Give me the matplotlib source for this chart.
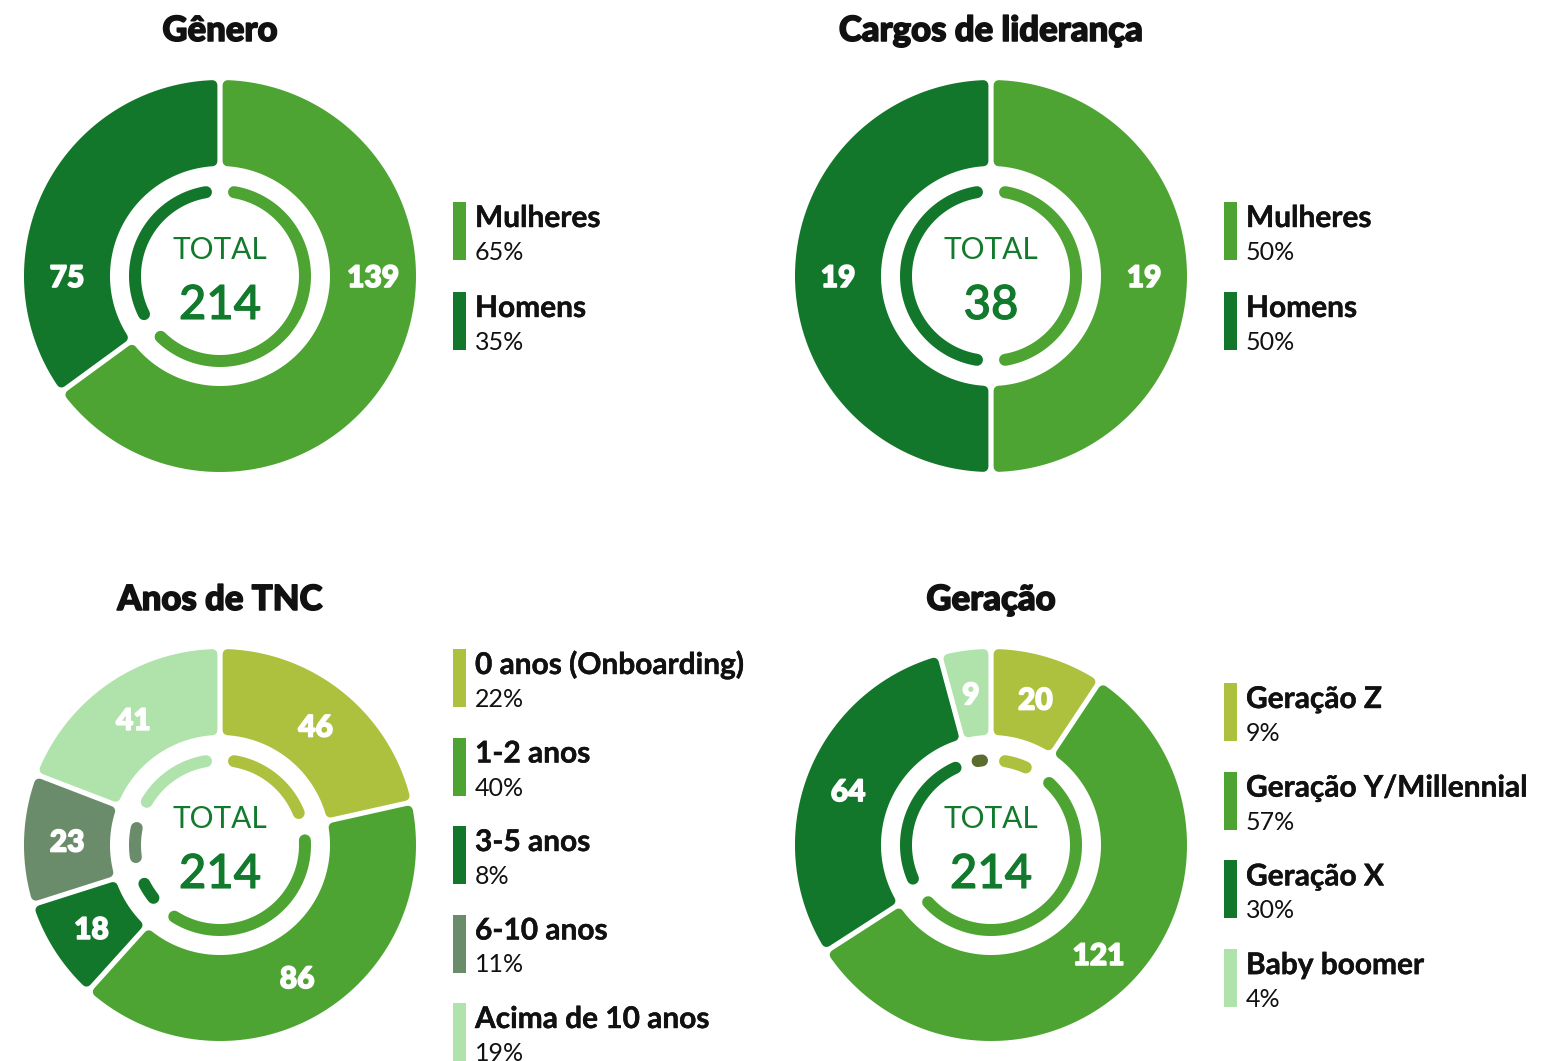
import numpy as np
import matplotlib
matplotlib.use("Agg")
import matplotlib.pyplot as plt
import matplotlib.patheffects as pe
from matplotlib.patches import Polygon, Rectangle

# ---------------- data ----------------
genero_title = "Gênero"
genero_labels = ["Mulheres", "Homens"]
genero_values = [139, 75]
genero_pct = ["65%", "35%"]

cargos_title = "Cargos de liderança"
cargos_labels = ["Mulheres", "Homens"]
cargos_values = [19, 19]
cargos_pct = ["50%", "50%"]

anos_title = "Anos de TNC"
anos_labels = ["0 anos (Onboarding)", "1-2 anos", "3-5 anos", "6-10 anos", "Acima de 10 anos"]
anos_values = [46, 86, 18, 23, 41]
anos_pct = ["22%", "40%", "8%", "11%", "19%"]

geracao_title = "Geração"
geracao_labels = ["Geração Z", "Geração Y/Millennial", "Geração X", "Baby boomer"]
geracao_values = [20, 121, 64, 9]
geracao_pct = ["9%", "57%", "30%", "4%"]

# ---------------- style ----------------
DARK = "#12772b"
MID = "#4ea432"
OLIVE = "#adc13f"
GREY = "#6a8c6a"
LIGHT = "#b0e2ab"
DOT = "#5c6b2e"
TOTAL_COLOR = "#127a2c"
INK = "#111111"

genero_colors = [MID, DARK]
cargos_colors = [MID, DARK]
anos_colors = [OLIVE, MID, DARK, GREY, LIGHT]
geracao_colors = [OLIVE, MID, DARK, LIGHT]
geracao_inner = [OLIVE, MID, DARK, DOT]

plt.rcParams["font.family"] = ["Lato", "DejaVu Sans"]

W, H = 1558, 1061
PX = 72 / 100.0  # points per pixel

fig = plt.figure(figsize=(W / 100, H / 100), dpi=100)
ax = fig.add_axes([0, 0, 1, 1])
ax.set_xlim(0, W)
ax.set_ylim(H, 0)
ax.axis("off")

R_OUT, R_IN = 196, 110
R_LAB = 153
R_ARC = 85
CORNER = 5.0
HALF_GAP = 2.6
INSET = np.radians(9.5)
MIN_ARC = np.radians(3.0)


def pt(cx, cy, r, th):
    return cx + r * np.cos(th), cy - r * np.sin(th)


def donut(cx, cy, values, colors, inner_colors, two_side):
    total = float(sum(values))
    start = np.pi / 2
    bounds = []
    for v in values:
        span = 2 * np.pi * v / total
        bounds.append((start, start - span))
        start -= span
    d = HALF_GAP + CORNER
    ro, ri = R_OUT - CORNER, R_IN + CORNER
    for i, ((a1, a2), c) in enumerate(zip(bounds, colors)):
        t_out = np.linspace(a1 - np.arcsin(d / ro), a2 + np.arcsin(d / ro), 200)
        t_in = np.linspace(a2 + np.arcsin(d / ri), a1 - np.arcsin(d / ri), 200)
        xs = np.concatenate([cx + ro * np.cos(t_out), cx + ri * np.cos(t_in)])
        ys = np.concatenate([cy - ro * np.sin(t_out), cy - ri * np.sin(t_in)])
        ax.add_patch(Polygon(np.column_stack([xs, ys]), closed=True, facecolor=c,
                             edgecolor=c, linewidth=2 * CORNER * PX, joinstyle="round"))
        # inner thin arc
        s, e = a1 - INSET, a2 + INSET
        if s - e < MIN_ARC:
            m = (a1 + a2) / 2
            s, e = m + MIN_ARC / 2, m - MIN_ARC / 2
        th = np.linspace(s, e, 100)
        ax.plot(cx + R_ARC * np.cos(th), cy - R_ARC * np.sin(th), color=inner_colors[i],
                lw=12 * PX, solid_capstyle="round")
        # value label
        if two_side:
            la = 0.0 if i == 0 else np.pi
        else:
            la = (a1 + a2) / 2
        lx, ly = pt(cx, cy, R_LAB, la)
        ax.text(lx, ly + 2, str(values[i]), color="white", fontsize=21.5, fontweight="black",
                ha="center", va="center",
                path_effects=[pe.withStroke(linewidth=1.2, foreground="white")])
    ax.text(cx, cy - 17, "TOTAL", color=TOTAL_COLOR, fontsize=21.5, ha="center", va="baseline")
    ax.text(cx, cy + 43, str(int(total)), color=TOTAL_COLOR, fontsize=34, fontweight="medium",
            ha="center", va="baseline",
            path_effects=[pe.withStroke(linewidth=0.8, foreground=TOTAL_COLOR)])


def title(cx, base, text):
    ax.text(cx, base, text, fontsize=25, fontweight="black", ha="center", va="baseline",
            color=INK, path_effects=[pe.withStroke(linewidth=1.1, foreground=INK)])


def legend(x, y0, step, labels, pcts, colors):
    for i, (lab, p, c) in enumerate(zip(labels, pcts, colors)):
        top = y0 + i * step
        ax.add_patch(Rectangle((x, top), 13, 58, facecolor=c, edgecolor="none"))
        ax.text(x + 22, top + 25, lab, fontsize=21.5, fontweight="bold", ha="left",
                va="baseline", color=INK,
                path_effects=[pe.withStroke(linewidth=0.3, foreground=INK)])
        ax.text(x + 22, top + 58, p, fontsize=18, ha="left", va="baseline", color=INK)


# top-left
title(220, 41, genero_title)
donut(220, 276, genero_values, genero_colors, genero_colors, True)
legend(453, 202, 90, genero_labels, genero_pct, genero_colors)

# top-right
title(991, 41, cargos_title)
donut(991, 276, cargos_values, cargos_colors, cargos_colors, True)
legend(1224, 202, 90, cargos_labels, cargos_pct, cargos_colors)

# bottom-left
title(220, 610, anos_title)
donut(220, 845, anos_values, anos_colors, anos_colors, False)
legend(453, 649, 88.5, anos_labels, anos_pct, anos_colors)

# bottom-right
title(991, 610, geracao_title)
donut(991, 845, geracao_values, geracao_colors, geracao_inner, False)
legend(1224, 683, 88.7, geracao_labels, geracao_pct, geracao_colors)

fig.savefig("out.png", dpi=100, facecolor="white")
